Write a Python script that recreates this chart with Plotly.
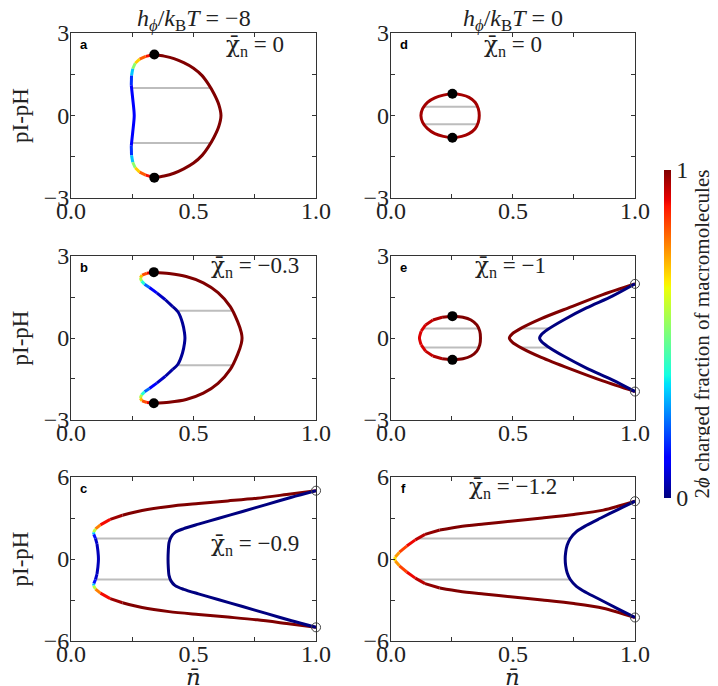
import plotly.graph_objects as go
from plotly.subplots import make_subplots
from plotly.colors import sample_colorscale

# ---- data ----
# panel a  (h/kT = -8, chi = 0)
a_out_n = [0.340, 0.38, 0.42, 0.46, 0.50, 0.535, 0.560, 0.583, 0.603, 0.612,
           0.603, 0.583, 0.560, 0.535, 0.50, 0.46, 0.42, 0.38, 0.340]
a_out_v = [2.22, 2.16, 2.07, 1.92, 1.72, 1.45, 1.15, 0.80, 0.40, 0.0,
           -0.40, -0.80, -1.15, -1.45, -1.73, -1.94, -2.10, -2.20, -2.26]
a_out_c = [1.0] * 19
a_in_n = [0.340, 0.305, 0.280, 0.262, 0.252, 0.247, 0.246, 0.252, 0.258, 0.252, 0.246, 0.247, 0.252, 0.262, 0.280, 0.305, 0.340]
a_in_v = [2.22, 2.15, 2.05, 1.90, 1.70, 1.45, 1.10, 0.60, 0.0, -0.60, -1.10, -1.45, -1.70, -1.90, -2.06, -2.17, -2.26]
a_in_c = [0.92, 0.87, 0.76, 0.62, 0.42, 0.22, 0.12, 0.11, 0.11, 0.11, 0.12, 0.22, 0.42, 0.62, 0.76, 0.87, 0.92]
a_tie_v = [1.0, -1.0]
a_tie_n = [0.250, 0.566]
a_dot_n = [0.340, 0.340]
a_dot_v = [2.22, -2.26]

# panel b  (h/kT = -8, chi = -0.3)
b_out_n = [0.338, 0.40, 0.47, 0.54, 0.60, 0.65, 0.68, 0.695, 0.698, 0.695, 0.68, 0.65, 0.60, 0.54, 0.47, 0.40, 0.338]
b_out_v = [2.41, 2.36, 2.25, 2.02, 1.66, 1.15, 0.60, 0.20, 0.0, -0.20, -0.60, -1.15, -1.66, -2.02, -2.25, -2.35, -2.39]
b_out_c = [1.0] * 17
b_in_n = [0.338, 0.31, 0.29, 0.283, 0.288, 0.30, 0.32, 0.35, 0.385, 0.415, 0.437, 0.455, 0.463, 0.465,
          0.463, 0.455, 0.437, 0.415, 0.385, 0.35, 0.32, 0.30, 0.288, 0.283, 0.29, 0.31, 0.338]
b_in_v = [2.41, 2.37, 2.30, 2.20, 2.08, 1.97, 1.85, 1.65, 1.40, 1.15, 0.95, 0.55, 0.20, 0.0,
          -0.20, -0.55, -0.95, -1.15, -1.40, -1.65, -1.85, -1.97, -2.08, -2.20, -2.30, -2.36, -2.39]
b_in_c = [0.93, 0.88, 0.78, 0.64, 0.48, 0.30, 0.15, 0.08, 0.04, 0.02, 0.02, 0.02, 0.02, 0.02,
          0.02, 0.02, 0.02, 0.02, 0.04, 0.08, 0.15, 0.30, 0.48, 0.64, 0.78, 0.88, 0.93]
b_tie_v = [1.0, -1.0]
b_tie_n = [0.437, 0.655]
b_dot_n = [0.338, 0.338]
b_dot_v = [2.41, -2.39]

# panel c  (h/kT = -8, chi = -0.9)
c_out_n = [1.0, 0.88, 0.76, 0.64, 0.52, 0.40, 0.29, 0.21, 0.16, 0.12, 0.10, 0.092, 0.093, 0.100, 0.106, 0.110, 0.112,
           0.110, 0.106, 0.100, 0.093, 0.092, 0.10, 0.12, 0.16, 0.21, 0.29, 0.40, 0.52, 0.64, 0.76, 0.88, 1.0]
c_out_v = [5.0, 4.72, 4.45, 4.25, 4.06, 3.85, 3.55, 3.20, 2.90, 2.50, 2.20, 1.95, 1.80, 1.50, 1.10, 0.55, 0.0,
           -0.55, -1.10, -1.50, -1.80, -1.95, -2.20, -2.50, -2.90, -3.20, -3.55, -3.85, -4.06, -4.25, -4.45, -4.72, -5.0]
c_out_c = [1.0, 1.0, 1.0, 1.0, 1.0, 1.0, 1.0, 1.0, 0.95, 0.85, 0.70, 0.45, 0.20, 0.08, 0.05, 0.05, 0.05,
           0.05, 0.05, 0.08, 0.20, 0.45, 0.70, 0.85, 0.95, 1.0, 1.0, 1.0, 1.0, 1.0, 1.0, 1.0, 1.0]
c_in_n = [1.0, 0.90, 0.80, 0.70, 0.60, 0.52, 0.46, 0.425, 0.408, 0.400, 0.397, 0.396,
          0.397, 0.400, 0.408, 0.425, 0.46, 0.52, 0.60, 0.70, 0.80, 0.90, 1.0]
c_in_v = [5.0, 4.52, 4.00, 3.48, 2.96, 2.55, 2.22, 1.95, 1.60, 1.20, 0.60, 0.0,
          -0.60, -1.20, -1.60, -1.95, -2.22, -2.55, -2.96, -3.48, -4.00, -4.52, -5.0]
c_in_c = [0.0] * 23
c_tie_v = [1.5, -1.5]
c_tie_n = [0.106, 0.404]
c_ring_n = [1.0, 1.0]
c_ring_v = [5.0, -5.0]

# panel d  (h/kT = 0, chi = 0)
d_ell_n = [0.252, 0.29, 0.32, 0.345, 0.358, 0.362, 0.358, 0.345, 0.32, 0.29, 0.252,
           0.215, 0.18, 0.15, 0.13, 0.123, 0.13, 0.15, 0.18, 0.215, 0.252]
d_ell_v = [0.79, 0.75, 0.66, 0.48, 0.25, 0.0, -0.25, -0.48, -0.66, -0.76, -0.81,
           -0.76, -0.66, -0.48, -0.25, 0.0, 0.25, 0.48, 0.64, 0.74, 0.79]
d_ell_c = [0.97] * 21
d_tie_v = [0.32, -0.32]
d_tie_n = [0.13, 0.356]
d_dot_n = [0.252, 0.252]
d_dot_v = [0.79, -0.81]

# panel e  (h/kT = 0, chi = -1)
e_ell_n = [0.252, 0.295, 0.328, 0.352, 0.364, 0.367, 0.364, 0.352, 0.328, 0.295, 0.252,
           0.21, 0.172, 0.142, 0.124, 0.117, 0.124, 0.142, 0.172, 0.21, 0.252]
e_ell_v = [0.80, 0.76, 0.66, 0.48, 0.25, 0.0, -0.25, -0.48, -0.66, -0.76, -0.80,
           -0.76, -0.66, -0.48, -0.25, 0.0, 0.25, 0.48, 0.66, 0.76, 0.80]
e_ell_c = [1.0, 1.0, 1.0, 1.0, 1.0, 1.0, 1.0, 1.0, 1.0, 1.0, 1.0,
           0.97, 0.95, 0.93, 0.92, 0.92, 0.92, 0.93, 0.95, 0.97, 1.0]
e_out_n = [1.0, 0.868, 0.735, 0.616, 0.536, 0.497, 0.485, 0.497, 0.536, 0.616, 0.735, 0.868, 1.0]
e_out_v = [1.98, 1.59, 1.13, 0.71, 0.37, 0.15, 0.0, -0.15, -0.37, -0.71, -1.13, -1.57, -1.96]
e_out_c = [1.0] * 13
e_in_n = [1.0, 0.907, 0.801, 0.709, 0.642, 0.616, 0.609, 0.616, 0.642, 0.709, 0.801, 0.907, 1.0]
e_in_v = [1.98, 1.53, 1.10, 0.67, 0.31, 0.12, 0.0, -0.12, -0.31, -0.67, -1.10, -1.53, -1.96]
e_in_c = [0.0] * 13
e_tie_v = [0.35, -0.35]
e_tie_n = [0.13, 0.36]
e_tie2_n = [0.53, 0.645]
e_dot_n = [0.252, 0.252]
e_dot_v = [0.80, -0.80]
e_ring_n = [1.0, 1.0]
e_ring_v = [1.98, -1.96]

# panel f  (h/kT = 0, chi = -1.2)
f_out_n = [1.0, 0.87, 0.75, 0.62, 0.50, 0.38, 0.28, 0.20, 0.14, 0.10, 0.065, 0.035, 0.018, 0.016,
           0.018, 0.035, 0.065, 0.10, 0.14, 0.20, 0.28, 0.38, 0.50, 0.62, 0.75, 0.87, 1.0]
f_out_v = [4.23, 3.58, 3.26, 3.00, 2.78, 2.56, 2.36, 2.12, 1.80, 1.40, 0.95, 0.50, 0.15, 0.0,
           -0.15, -0.50, -0.95, -1.40, -1.80, -2.12, -2.36, -2.56, -2.78, -3.00, -3.26, -3.60, -4.28]
f_out_c = [1.0, 1.0, 1.0, 1.0, 1.0, 1.0, 1.0, 1.0, 0.97, 0.93, 0.88, 0.80, 0.70, 0.65,
           0.70, 0.80, 0.88, 0.93, 0.97, 1.0, 1.0, 1.0, 1.0, 1.0, 1.0, 1.0, 1.0]
f_in_n = [1.0, 0.93, 0.86, 0.80, 0.76, 0.735, 0.722, 0.716, 0.714, 0.716, 0.722, 0.735, 0.76, 0.80, 0.86, 0.93, 1.0]
f_in_v = [4.23, 3.62, 3.00, 2.45, 2.00, 1.50, 1.00, 0.50, 0.0, -0.50, -1.00, -1.50, -2.00, -2.45, -3.00, -3.65, -4.28]
f_in_c = [0.0] * 17
f_tie_v = [1.5, -1.5]
f_tie_n = [0.113, 0.735]
f_ring_n = [1.0, 1.0]
f_ring_v = [4.23, -4.28]

panel_letters = ["a", "b", "c", "d", "e", "f"]
chi_labels = ["0", "−0.3", "−0.9", "0", "−1", "−1.2"]
chi_pos_n = [0.75, 0.75, 0.75, 0.50, 0.49, 0.50]
chi_pos_v = [2.55, 2.6, 1.05, 2.55, 2.6, 5.25]
column_titles = ["−8", "0"]

JET = [[0.0, "rgb(0,0,128)"], [0.11, "rgb(0,0,255)"], [0.125, "rgb(0,0,255)"],
       [0.34, "rgb(0,219,255)"], [0.35, "rgb(0,229,247)"], [0.375, "rgb(21,255,226)"],
       [0.64, "rgb(238,255,8)"], [0.65, "rgb(247,246,0)"], [0.66, "rgb(255,236,0)"],
       [0.89, "rgb(255,19,0)"], [0.91, "rgb(232,0,0)"], [1.0, "rgb(128,0,0)"]]

SERIF = "Liberation Serif"
MARK = "<span style='font-family:DejaVu Serif'>"
FRAME = "#333333"
TXT = "#222222"

fig = make_subplots(rows=3, cols=2)


def add_branch(ns, vs, cs, row, col):
    cols = sample_colorscale(JET, [(cs[i] + cs[i + 1]) / 2 for i in range(len(ns) - 1)])
    i = 0
    while i < len(ns) - 1:
        j = i
        while j + 1 < len(ns) - 1 and cols[j + 1] == cols[i]:
            j += 1
        fig.add_trace(go.Scatter(x=ns[i:j + 2], y=vs[i:j + 2], mode="lines",
                                 line=dict(color=cols[i], width=3, shape="spline", smoothing=0.8),
                                 hoverinfo="skip", showlegend=False), row=row, col=col)
        i = j + 1


def add_ties(tv, tn, row, col):
    for v in tv:
        fig.add_trace(go.Scatter(x=tn, y=[v, v], mode="lines",
                                 line=dict(color="#bdbdbd", width=2),
                                 hoverinfo="skip", showlegend=False), row=row, col=col)


def add_points(pn, pv, row, col, filled):
    if filled:
        mk = dict(size=10, color="black", line=dict(width=0))
    else:
        mk = dict(size=9, color="rgba(255,255,255,0)", line=dict(width=1, color="#444"))
    fig.add_trace(go.Scatter(x=pn, y=pv, mode="markers", marker=mk, cliponaxis=False,
                             hoverinfo="skip", showlegend=False), row=row, col=col)


# a
add_ties(a_tie_v, a_tie_n, 1, 1)
add_branch(a_out_n, a_out_v, a_out_c, 1, 1)
add_branch(a_in_n, a_in_v, a_in_c, 1, 1)
add_points(a_dot_n, a_dot_v, 1, 1, True)
# b
add_ties(b_tie_v, b_tie_n, 2, 1)
add_branch(b_out_n, b_out_v, b_out_c, 2, 1)
add_branch(b_in_n, b_in_v, b_in_c, 2, 1)
add_points(b_dot_n, b_dot_v, 2, 1, True)
# c
add_ties(c_tie_v, c_tie_n, 3, 1)
add_branch(c_out_n, c_out_v, c_out_c, 3, 1)
add_branch(c_in_n, c_in_v, c_in_c, 3, 1)
add_points(c_ring_n, c_ring_v, 3, 1, False)
# d
add_ties(d_tie_v, d_tie_n, 1, 2)
add_branch(d_ell_n, d_ell_v, d_ell_c, 1, 2)
add_points(d_dot_n, d_dot_v, 1, 2, True)
# e
add_ties(e_tie_v, e_tie_n, 2, 2)
add_ties(e_tie_v, e_tie2_n, 2, 2)
add_branch(e_ell_n, e_ell_v, e_ell_c, 2, 2)
add_branch(e_out_n, e_out_v, e_out_c, 2, 2)
add_branch(e_in_n, e_in_v, e_in_c, 2, 2)
add_points(e_dot_n, e_dot_v, 2, 2, True)
add_points(e_ring_n, e_ring_v, 2, 2, False)
# f
add_ties(f_tie_v, f_tie_n, 3, 2)
add_branch(f_out_n, f_out_v, f_out_c, 3, 2)
add_branch(f_in_n, f_in_v, f_in_c, 3, 2)
add_points(f_ring_n, f_ring_v, 3, 2, False)

# colorbar carrier
fig.add_trace(go.Scatter(
    x=[None], y=[None], mode="markers", showlegend=False, hoverinfo="skip",
    marker=dict(color=[0.5], colorscale=JET, cmin=0, cmax=1, showscale=True,
                colorbar=dict(x=1.0517, xanchor="left", xpad=0, ypad=0, y=0.505, yanchor="middle",
                              len=0.539, lenmode="fraction", thickness=7, outlinewidth=0,
                              tickvals=[0, 1], ticktext=["0", "1"], ticks="",
                              tickfont=dict(family=SERIF, size=24, color=TXT),
                              title=dict(text="2<i>ϕ</i> charged fraction of macromolecules",
                                         side="right", font=dict(family=SERIF, size=21, color=TXT)))),
), row=1, col=1)

col_dom = [[0.0, 0.4345], [0.5672, 1.0]]
row_dom = [[0.7286, 1.0], [0.3635, 0.6332], [0.0, 0.2697]]

for r in range(1, 4):
    for c in range(1, 3):
        fig.update_xaxes(domain=col_dom[c - 1], range=[0, 1],
                         tickvals=[0, 0.25, 0.5, 0.75, 1.0], ticktext=["0.0", "", "0.5", "", "1.0"],
                         row=r, col=c)
        if r < 3:
            fig.update_yaxes(domain=row_dom[r - 1], range=[-3, 3],
                             tickvals=[-3, -1.5, 0, 1.5, 3], ticktext=["−3", "", "0", "", "3"],
                             row=r, col=c)
        else:
            fig.update_yaxes(domain=row_dom[r - 1], range=[-6, 6],
                             tickvals=[-6, -3, 0, 3, 6], ticktext=["−6", "", "0", "", "6"],
                             row=r, col=c)

axis_style = dict(showline=True, mirror="ticks", linecolor=FRAME, linewidth=1, ticks="inside",
                  ticklen=4, tickcolor=FRAME, showgrid=False, zeroline=False, automargin=False,
                  tickfont=dict(family=SERIF, size=24, color=TXT))
fig.update_xaxes(ticklabelstandoff=-9, **axis_style)
fig.update_yaxes(ticklabelstandoff=-4, **axis_style)
for r in range(1, 4):
    fig.update_yaxes(title=dict(text="pI-pH", font=dict(family=SERIF, size=23, color=TXT), standoff=16),
                     row=r, col=1)

# annotations
k = 0
for c in range(1, 3):
    for r in range(1, 4):
        sp = fig.get_subplot(r, c)
        xa = sp.xaxis.plotly_name.replace("axis", "")
        ya = sp.yaxis.plotly_name.replace("axis", "")
        fig.add_annotation(text="<b>" + panel_letters[k] + "</b>", xref=xa + " domain", yref=ya + " domain",
                           x=0.052, y=0.933, showarrow=False, xanchor="center", yanchor="middle",
                           font=dict(family="Liberation Sans", size=13, color="black"))
        fig.add_annotation(text=MARK + "χ̄</span><sub>n</sub> = " + chi_labels[k], xref=xa, yref=ya,
                           x=chi_pos_n[k], y=chi_pos_v[k], showarrow=False,
                           xanchor="center", yanchor="middle",
                           font=dict(family=SERIF, size=23, color=TXT))
        k += 1

for cx in [0.2172, 0.7836]:
    fig.add_annotation(text=MARK + "<i>n̄</i></span>", xref="paper", yref="paper", x=cx, y=-0.06,
                       showarrow=False, xanchor="center", yanchor="middle",
                       font=dict(family=SERIF, size=23, color=TXT))

for i, cx in enumerate([0.2172, 0.7836]):
    fig.add_annotation(text="<i>h</i><sub><i>ϕ</i></sub>/<i>k</i><sub>B</sub><i>T</i> = " + column_titles[i],
                       xref="paper", yref="paper", x=cx, y=1.022, showarrow=False,
                       xanchor="center", yanchor="middle",
                       font=dict(family=SERIF, size=24, color=TXT))

fig.update_layout(width=718, height=686, margin=dict(l=63, r=75, t=25, b=53),
                  plot_bgcolor="white", paper_bgcolor="white",
                  font=dict(family=SERIF, color=TXT))

fig.write_html("out.html")
